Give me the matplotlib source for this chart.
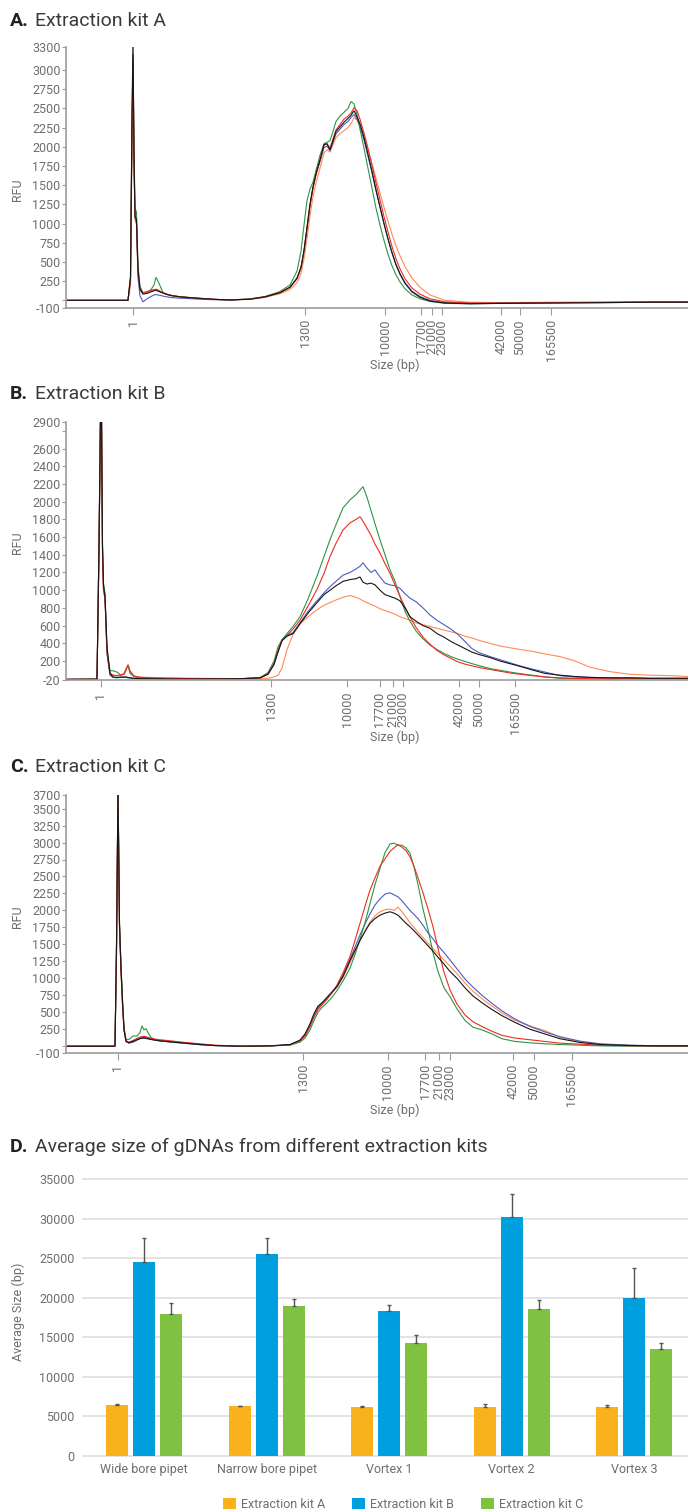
import matplotlib
matplotlib.use("Agg")
import matplotlib.pyplot as plt
from matplotlib.patches import Patch

plt.rcParams['font.family'] = ['Roboto', 'DejaVu Sans']

W, H = 688, 1511

# ---------------- data: electropherograms ----------------
ladder_labels = ["1", "1300", "10000", "17700", "21000", "23000", "42000", "50000", "165500"]
ladder_pos_A = [133, 305, 385, 421, 432, 442, 501, 520, 551]
ladder_pos_B = [100.5, 271, 347, 380, 393, 403, 459, 479, 515]
ladder_pos_C = [118, 303, 388, 425, 439, 450, 513, 534, 572]

# migration position (x) and RFU values for each trace
A_x = [66, 128, 130.5, 132, 133, 134, 135, 136.5, 138, 140,
       143, 147, 151, 154, 156, 158, 160, 163, 167, 172,
       180, 190, 200, 215, 230, 250, 265, 280, 290, 297,
       301, 304, 307, 310, 313, 316, 320, 324, 327, 330,
       333, 336, 340, 344, 348, 351, 354, 357, 360, 364,
       368, 372, 376, 380, 384, 388, 392, 396, 400, 405,
       412, 420, 430, 445, 470, 500, 550, 600, 650, 688]
A_black = [0, 0, 300, 2400, 3400, 1900, 1100, 1050, 400, 150,
           80, 90, 110, 125, 130, 120, 110, 95, 75, 60,
           45, 35, 25, 12, 5, 15, 45, 100, 170, 290,
           430, 650, 950, 1250, 1480, 1650, 1830, 2030, 2040, 1960,
           2080, 2200, 2260, 2320, 2370, 2410, 2470, 2390, 2300, 2120,
           1900, 1680, 1440, 1220, 1000, 800, 620, 460, 340, 220,
           110, 40, -10, -35, -45, -40, -35, -30, -25, -25]
A_green = [0, 0, 300, 2300, 3200, 2000, 1200, 1150, 450, 180,
           100, 110, 140, 200, 300, 250, 190, 100, 80, 60,
           45, 35, 25, 12, 5, 18, 50, 115, 200, 380,
           640, 980, 1300, 1450, 1540, 1690, 1890, 2040, 2060, 2080,
           2200, 2330, 2400, 2450, 2500, 2590, 2560, 2420, 2230, 1980,
           1720, 1460, 1200, 980, 780, 600, 450, 330, 240, 150,
           70, 20, -15, -40, -45, -40, -35, -30, -25, -20]
A_red = [0, 0, 250, 2200, 3100, 1800, 1100, 1000, 380, 140,
         100, 110, 130, 140, 145, 135, 120, 100, 80, 62,
         48, 36, 26, 13, 6, 16, 45, 100, 170, 280,
         420, 640, 930, 1230, 1460, 1640, 1820, 2020, 2040, 1980,
         2100, 2220, 2290, 2360, 2400, 2440, 2510, 2470, 2360, 2180,
         1980, 1760, 1530, 1310, 1090, 890, 700, 540, 410, 280,
         160, 80, 20, -20, -35, -35, -30, -30, -25, -20]
A_blue = [0, 0, 300, 2300, 3200, 1850, 1080, 1000, 300, 60,
          -20, 20, 50, 70, 75, 70, 65, 55, 45, 35,
          28, 22, 15, 8, 3, 15, 45, 100, 170, 285,
          425, 640, 940, 1240, 1470, 1640, 1810, 1990, 2010, 1950,
          2060, 2170, 2230, 2290, 2330, 2380, 2420, 2360, 2260, 2090,
          1880, 1660, 1430, 1210, 1000, 800, 620, 470, 350, 230,
          120, 50, 0, -30, -40, -35, -30, -25, -20, -20]
A_orange = [0, 0, 200, 2000, 3000, 1700, 1050, 1000, 350, 130,
            90, 100, 125, 135, 140, 130, 115, 95, 75, 60,
            46, 35, 25, 12, 5, 12, 38, 85, 140, 230,
            350, 540, 800, 1100, 1350, 1530, 1720, 1920, 1960, 1930,
            2030, 2120, 2170, 2210, 2250, 2300, 2380, 2350, 2270, 2130,
            1960, 1780, 1590, 1400, 1210, 1030, 860, 710, 580, 440,
            290, 170, 70, 0, -25, -30, -25, -25, -20, -20]

B_x = [66, 97, 99, 100.5, 101.5, 102.5, 103.5, 105, 107, 110,
       113, 117, 121, 124, 126, 128, 130, 134, 140, 150,
       170, 200, 240, 260, 268, 274, 278, 282, 287, 293,
       300, 308, 317, 324, 330, 336, 343, 350, 356, 360,
       363, 367, 371, 375, 380, 385, 390, 395, 400, 405,
       410, 416, 423, 430, 437, 444, 451, 458, 465, 472,
       480, 490, 500, 510, 520, 532, 545, 560, 575, 590,
       610, 630, 650, 670, 688]
B_black = [-8, -5, 1500, 3000, 3000, 1500, 1050, 930, 360, 60,
           20, 15, 20, 20, 20, 15, 10, 5, 0, 0,
           -3, -3, 0, 10, 50, 160, 300, 430, 480, 510,
           620, 740, 860, 950, 1000, 1050, 1100, 1120, 1130, 1150,
           1090, 1070, 1080, 1060, 1000, 950, 930, 910, 880, 800,
           700, 650, 600, 570, 510, 470, 420, 380, 340, 300,
           270, 240, 200, 170, 140, 100, 60, 40, 25, 15,
           10, 10, 5, 5, 5]
B_green = [-8, -5, 1400, 3000, 3000, 1500, 1050, 950, 320, 90,
           90, 75, 40, 60, 110, 150, 60, 25, 10, 0,
           -3, -3, 0, 12, 70, 200, 360, 440, 510, 590,
           700, 900, 1160, 1380, 1570, 1740, 1930, 2020, 2080, 2130,
           2170, 2050, 1900, 1750, 1570, 1400, 1230, 1100, 930, 760,
           650, 540, 450, 380, 330, 285, 250, 220, 195, 170,
           145, 115, 95, 75, 58, 40, 20, 5, 0, -5,
           -5, 0, 0, 0, 0]
B_red = [-8, -5, 1500, 3000, 3000, 1400, 1000, 900, 300, 60,
         40, 35, 45, 50, 100, 160, 90, 30, 15, 10,
         5, 0, 0, 10, 55, 170, 320, 430, 490, 560,
         660, 820, 1010, 1190, 1380, 1530, 1680, 1760, 1800, 1830,
         1780, 1700, 1620, 1520, 1420, 1300, 1190, 1060, 930, 810,
         700, 580, 470, 390, 320, 270, 230, 190, 165, 145,
         125, 105, 85, 65, 50, 35, 20, 10, 5, 0,
         0, 0, 0, 0, 0]
B_blue = [-5, -5, 1500, 3000, 3000, 1500, 1080, 950, 280, 40,
          15, 10, 15, 15, 15, 10, 8, 5, 0, 0,
          -3, -3, 0, 10, 55, 170, 310, 440, 490, 520,
          630, 760, 880, 970, 1040, 1100, 1170, 1200, 1240, 1270,
          1310, 1250, 1200, 1230, 1150, 1080, 1060, 1050, 1020, 960,
          910, 870, 800, 720, 660, 610, 560, 500, 420, 340,
          290, 250, 215, 180, 145, 110, 75, 35, 20, 15,
          10, 10, 5, 5, 5]
B_orange = [-5, -5, 1400, 3000, 3000, 1400, 1000, 900, 300, 60,
            40, 35, 40, 50, 90, 150, 80, 30, 20, 15,
            10, 5, 0, 0, 5, 20, 40, 120, 330, 500,
            620, 700, 780, 830, 860, 890, 920, 940, 920, 900,
            880, 860, 840, 820, 790, 770, 750, 730, 700, 680,
            660, 630, 610, 590, 570, 550, 530, 510, 480, 460,
            430, 400, 370, 350, 330, 310, 280, 250, 200, 130,
            80, 50, 40, 35, 25]

C_x = [66, 115, 116.5, 118, 119.5, 121, 122.5, 124, 126, 129,
       133, 137, 140, 142, 144, 146, 148, 151, 155, 160,
       170, 185, 200, 215, 240, 270, 290, 300, 305, 310,
       314, 318, 322, 327, 332, 337, 343, 350, 355, 360,
       365, 370, 375, 380, 385, 390, 394, 398, 402, 406,
       410, 414, 418, 423, 428, 433, 438, 444, 450, 457,
       465, 473, 482, 492, 502, 515, 530, 545, 560, 580,
       600, 630, 660, 688]
C_black = [0, 0, 1500, 3800, 1800, 1150, 650, 250, 70, 50,
           70, 95, 115, 120, 125, 120, 110, 100, 90, 80,
           65, 45, 25, 10, 0, 5, 25, 90, 180, 330,
           480, 590, 640, 720, 800, 880, 1030, 1260, 1410, 1560,
           1690, 1810, 1880, 1930, 1960, 1980, 1960, 1930, 1870, 1810,
           1760, 1700, 1640, 1560, 1480, 1400, 1310, 1210, 1100, 1000,
           860, 740, 640, 540, 450, 350, 250, 180, 110, 55,
           25, 10, 5, 5]
C_orange = [0, 0, 1400, 3800, 1750, 1100, 620, 240, 80, 60,
            80, 105, 125, 130, 135, 130, 120, 110, 95, 85,
            70, 50, 30, 12, 0, 5, 20, 80, 160, 300,
            450, 570, 630, 700, 790, 870, 1010, 1230, 1390, 1550,
            1700, 1830, 1920, 1980, 2010, 2020, 2000, 2050, 1980, 1900,
            1820, 1750, 1680, 1600, 1520, 1440, 1360, 1270, 1180, 1070,
            930, 810, 700, 590, 490, 380, 300, 230, 130, 65,
            30, 12, 5, 5]
C_blue = [0, 0, 1500, 3800, 1800, 1150, 650, 250, 70, 45,
          60, 90, 110, 115, 118, 115, 108, 100, 88, 78,
          62, 42, 22, 8, 0, 5, 20, 80, 160, 300,
          440, 560, 630, 700, 790, 880, 1040, 1280, 1460, 1640,
          1800, 1950, 2080, 2170, 2240, 2260, 2230, 2200, 2140, 2070,
          2000, 1940, 1880, 1780, 1670, 1580, 1480, 1380, 1270, 1140,
          990, 870, 750, 630, 520, 400, 290, 210, 140, 75,
          35, 15, 5, 5]
C_red = [0, 0, 1400, 3800, 1750, 1100, 620, 240, 80, 60,
         85, 115, 135, 140, 145, 140, 130, 120, 105, 95,
         80, 55, 35, 15, 0, 5, 20, 80, 150, 290,
         430, 540, 610, 690, 790, 900, 1080, 1320, 1560, 1810,
         2060, 2300, 2480, 2650, 2760, 2870, 2920, 2970, 2930, 2880,
         2790, 2650, 2480, 2260, 2020, 1760, 1440, 1090, 830, 620,
         460, 360, 290, 220, 160, 120, 95, 70, 45, 30,
         15, 8, 5, 5]
C_green = [0, 0, 1300, 3800, 1800, 1200, 700, 280, 100, 100,
           150, 150, 200, 300, 240, 260, 200, 130, 90, 80,
           65, 45, 25, 10, 0, 5, 15, 60, 120, 240,
           380, 500, 570, 640, 720, 820, 960, 1150, 1350, 1580,
           1820, 2100, 2380, 2620, 2850, 2980, 2990, 2960, 2960, 2920,
           2840, 2640, 2380, 2020, 1720, 1380, 1100, 860, 730, 550,
           380, 280, 240, 180, 110, 70, 50, 35, 25, 15,
           5, 0, 0, 0]

A_yticks = [-100, 0, 250, 500, 750, 1000, 1250, 1500, 1750, 2000, 2250, 2500, 2750, 3000, 3300]
B_yticks = [-20, 200, 400, 600, 800, 1000, 1200, 1400, 1600, 1800, 2000, 2200, 2400, 2600, 2800, 2900]
C_yticks = [-100, 0, 250, 500, 750, 1000, 1250, 1500, 1750, 2000, 2250, 2500, 2750, 3000, 3250, 3500, 3700]
A_hidden = [0]
B_hidden = [2800]
C_hidden = [0]

# ---------------- data: bar chart ----------------
conditions = ["Wide bore pipet", "Narrow bore pipet", "Vortex 1", "Vortex 2", "Vortex 3"]
kit_names = ["Extraction kit A", "Extraction kit B", "Extraction kit C"]
kitA_mean = [6440, 6300, 6190, 6190, 6190]
kitA_err = [130, 0, 110, 340, 210]
kitB_mean = [24500, 25500, 18300, 30200, 19960]
kitB_err = [3100, 2000, 800, 2950, 3800]
kitC_mean = [17940, 18950, 14280, 18570, 13520]
kitC_err = [1350, 890, 1000, 1180, 720]

# ---------------- styling ----------------
trace_colors = {"orange": "#FF8C55", "blue": "#4A5CC0", "green": "#2E9446",
                "red": "#EE2C22", "black": "#151515"}
bar_colors = ["#F9B21B", "#009FDF", "#80C141"]
AX_GRAY = "#9c9c9c"
TXT_GRAY = "#6e6e6e"
TITLE_COL = "#3a3a3a"

fig = plt.figure(figsize=(W / 100, H / 100), dpi=100)


def box(l, t, r, b):
    return [l / W, 1 - b / H, (r - l) / W, (b - t) / H]


def ftext(x, y, s, **kw):
    return fig.text(x / W, 1 - y / H, s, **kw)


def title(y, letter, rest):
    ftext(10, y, letter, fontsize=14, fontweight="bold", color="#222222", va="baseline")
    ftext(35, y, rest, fontsize=14, color=TITLE_COL, va="baseline")


def electro(rect, x, traces, ylim, yticks, hidden, ladder_pos, rfu_y, size_y):
    ax = fig.add_axes(box(*rect))
    for name in ["orange", "blue", "green", "red", "black"]:
        ax.plot(x, traces[name], color=trace_colors[name], lw=0.8, solid_joinstyle="miter")
    ax.set_xlim(66, 688)
    ax.set_ylim(*ylim)
    for s in ["top", "right"]:
        ax.spines[s].set_visible(False)
    for s in ["left", "bottom"]:
        ax.spines[s].set_color(AX_GRAY)
        ax.spines[s].set_linewidth(1.2)
    ax.set_yticks(yticks)
    ax.set_yticklabels(["" if t in hidden else str(t) for t in yticks])
    ax.set_xticks(ladder_pos)
    ax.set_xticklabels(ladder_labels, rotation=90)
    ax.tick_params(axis="y", length=3, width=0.8, color=AX_GRAY, labelsize=9,
                   labelcolor=TXT_GRAY, pad=1)
    ax.tick_params(axis="x", length=5, width=0.8, color=AX_GRAY, labelsize=9,
                   labelcolor=TXT_GRAY, pad=3)
    ftext(18, rfu_y, "RFU", rotation=90, fontsize=9, color=TXT_GRAY, ha="center", va="center")
    ftext(395, size_y, "Size (bp)", fontsize=9, color=TXT_GRAY, ha="center", va="center")
    return ax


title(26, "A.", "Extraction kit A")
electro((66, 47, 688, 308), A_x,
        {"black": A_black, "green": A_green, "red": A_red, "blue": A_blue, "orange": A_orange},
        (-100, 3300), A_yticks, A_hidden, ladder_pos_A, 190, 365)

title(399, "B.", "Extraction kit B")
electro((66, 422, 688, 680.5), B_x,
        {"black": B_black, "green": B_green, "red": B_red, "blue": B_blue, "orange": B_orange},
        (-20, 2900), B_yticks, B_hidden, ladder_pos_B, 543, 737)

title(772, "C.", "Extraction kit C")
electro((66, 795, 688, 1053), C_x,
        {"black": C_black, "green": C_green, "red": C_red, "blue": C_blue, "orange": C_orange},
        (-100, 3700), C_yticks, C_hidden, ladder_pos_C, 917, 1110)

# ---------------- panel D ----------------
title(1152, "D.", "Average size of gDNAs from different extraction kits")
axd = fig.add_axes(box(83, 1179, 695.5, 1456))
idx = list(range(len(conditions)))
offs = [-0.22, 0.0, 0.22]
means = [kitA_mean, kitB_mean, kitC_mean]
errs = [kitA_err, kitB_err, kitC_err]
for k in range(3):
    xs = [i + offs[k] for i in idx]
    axd.bar(xs, means[k], width=0.18, color=bar_colors[k], zorder=3)
    axd.errorbar(xs, means[k], yerr=[[0] * 5, errs[k]], fmt="none", ecolor="#555555",
                 elinewidth=1.0, capsize=1.6, capthick=1.0, zorder=4)
axd.set_xlim(-0.5, 4.5)
axd.set_ylim(0, 35000)
yt = list(range(0, 35001, 5000))
axd.set_yticks(yt)
axd.set_yticklabels([str(v) for v in yt])
for v in yt:
    axd.axhline(v, color="#e0e0e0", lw=1.3, zorder=1, clip_on=False)
for s in axd.spines.values():
    s.set_visible(False)
axd.set_xticks(idx)
axd.set_xticklabels(conditions)
axd.tick_params(axis="both", length=0, labelsize=9, labelcolor=TXT_GRAY)
axd.tick_params(axis="y", pad=6)
axd.tick_params(axis="x", pad=5)
ftext(18, 1312, "Average Size (bp)", rotation=90, fontsize=9, color=TXT_GRAY,
      ha="center", va="center")
handles = [Patch(facecolor=c, edgecolor="none") for c in bar_colors]
fig.legend(handles, kit_names, loc="center", bbox_to_anchor=(403 / W, 1 - 1504 / H),
           ncol=3, frameon=False, fontsize=9, labelcolor=TXT_GRAY,
           handlelength=1.0, handleheight=1.0, handletextpad=0.4, columnspacing=2.2)

fig.savefig("out.png", dpi=100)
